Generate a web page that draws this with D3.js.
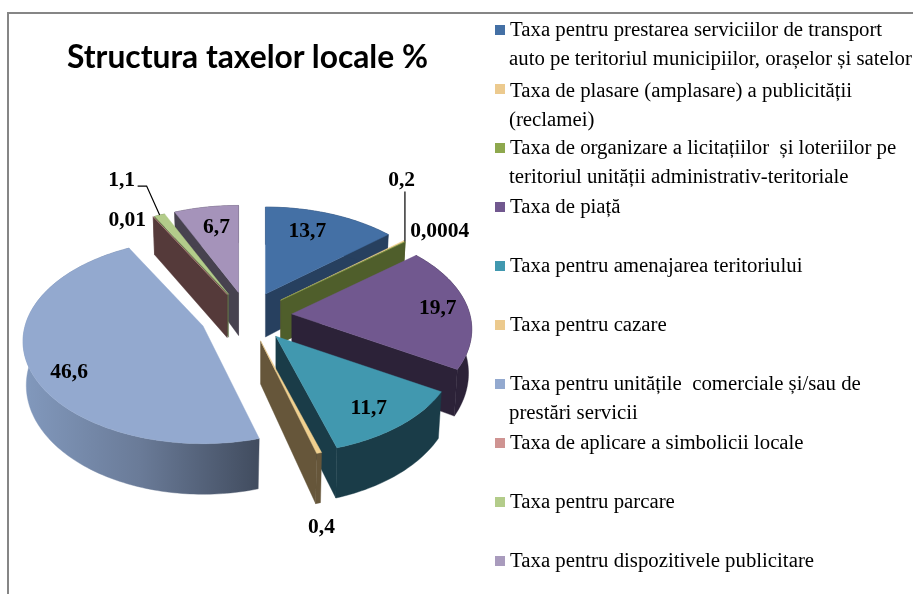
<!DOCTYPE html>
<html><head><meta charset="utf-8">
<style>html,body{margin:0;padding:0;background:#fff}svg{display:block;filter:blur(0.4px)}</style>
<script src="https://cdnjs.cloudflare.com/ajax/libs/d3/7.8.5/d3.min.js"></script>
</head><body><svg id="c" width="913" height="594"></svg>
<script>
const titleText = "Structura taxelor locale %";
const legendLines = [
 ["Taxa pentru prestarea serviciilor de transport","auto pe teritoriul municipiilor, orașelor și satelor"],
 ["Taxa de plasare (amplasare) a publicității","(reclamei)"],
 ["Taxa de organizare a licitațiilor  și loteriilor pe","teritoriul unității administrativ-teritoriale"],
 ["Taxa de piață"],
 ["Taxa pentru amenajarea teritoriului"],
 ["Taxa pentru cazare"],
 ["Taxa pentru unitățile  comerciale și/sau de","prestări servicii"],
 ["Taxa de aplicare a simbolicii locale"],
 ["Taxa pentru parcare"],
 ["Taxa pentru dispozitivele publicitare"]
];
const values = [13.7,0.2,0.0004,19.7,11.7,0.4,46.6,0.01,1.1,6.7];
const valueLabels = ["13,7","0,2","0,0004","19,7","11,7","0,4","46,6","0,01","1,1","6,7"];
const explode = [0.25,0.25,0.25,0.25,0.25,0.25,0.265,0.25,0.25,0.25];
const topColors = ["#4470a5","#f0d08f","#8ea84e","#71588f","#4198af","#f0d08f","#93a9cf","#cf9492","#b3cc8a","#a593ba"];
const wallColors = ["#27405f","#66563a","#4f5e2b","#2c2238","#1a3c48","#66563a","url(#blueWall)","#553a3a","#5f7048","#47424f"];
const swatchColors = ["#4470a5","#ecca8e","#8ea84e","#71588f","#4198af","#ecca8e","#93a9cf","#cf9492","#b3cc8a","#a99bbd"];
const labelOffsets = [[42,-64],[121,-121],[159,-70],[146,-7],[93,71],[61,185],[-134,45],[-100,-76],[-107,-115],[-22,-66]];
const legendTextNudge = [0,2,0,0,0,0,0,0,0,0];

const svg = d3.select("#c");
const cx=247.5, cy=316, rx=178, ry=100, k=0.15, depth=43, shrink=0.018;

const defs = svg.append("defs");
const grad = defs.append("linearGradient").attr("id","blueWall").attr("gradientUnits","userSpaceOnUse")
  .attr("x1",23).attr("x2",256).attr("y1",0).attr("y2",0);
grad.append("stop").attr("offset","0").attr("stop-color","#8299bd");
grad.append("stop").attr("offset","0.5").attr("stop-color","#6a7b98");
grad.append("stop").attr("offset","1").attr("stop-color","#424d60");

// frame
svg.append("path").attr("d",d3.line()([[8,594],[8,13],[913,13]])).attr("fill","none").attr("stroke","#868686").attr("stroke-width",2);

// title
svg.append("text").attr("x",67).attr("y",68).attr("font-family","Lato, 'Open Sans', sans-serif").attr("font-weight",700)
  .attr("font-size",33).attr("fill","#000").attr("textLength",361).attr("lengthAdjust","spacingAndGlyphs").text(titleText);

const arcs = d3.pie().sort(null).startAngle(0).endAngle(2*Math.PI)(values).map((a,i)=>{
  const mid=(a.startAngle+a.endAngle)/2;
  const ou=explode[i]*Math.sin(mid), ov=-explode[i]*Math.cos(mid);
  const w0=1-k*ov;
  return {i,a,mid,ov,base:[cx+rx*ou/w0, cy+ry*ov/w0]};
});
const pt=(s,u,v,z)=>{
  const w=1-k*v;
  return [s.base[0]+rx*u/w*(1-shrink*z), s.base[1]+ry*v/w+depth*z/w];
};
const rim=(s,t,z)=>pt(s,Math.sin(t),-Math.cos(t),z);
const line=d3.line();
const pie=svg.append("g");
const order=[...arcs].sort((p,q)=>p.ov-q.ov);
order.forEach(s=>{
  const {startAngle:a0,endAngle:a1}=s.a;
  const n=Math.max(2,Math.ceil((a1-a0)/0.02));
  const ts=d3.range(n+1).map(j=>a0+(a1-a0)*j/n);
  const g=pie.append("g");
  const wall=wallColors[s.i];
  const flat=d=>g.append("path").attr("d",line(d)+"Z").attr("fill",wall).attr("stroke",wall).attr("stroke-width",0.4);
  const A0=pt(s,0,0,0),A1=pt(s,0,0,1);
  if(Math.sin(a0)<0) flat([A0,rim(s,a0,0),rim(s,a0,1),A1]);
  if(Math.sin(a1)>0) flat([A0,rim(s,a1,0),rim(s,a1,1),A1]);
  flat([...ts.map(t=>rim(s,t,0)),...ts.slice().reverse().map(t=>rim(s,t,1))]);
  g.append("path").attr("d",line([A0,...ts.map(t=>rim(s,t,0))])+"Z").attr("fill",topColors[s.i]).attr("stroke",topColors[s.i]).attr("stroke-width",0.4);
});

// value labels
const lab=svg.append("g").attr("font-family","'Liberation Serif',serif").attr("font-weight",700).attr("font-size",21.5).attr("fill","#000").attr("text-anchor","middle");
arcs.forEach(s=>{
  const o=labelOffsets[s.i];
  lab.append("text").attr("x",s.base[0]+o[0]).attr("y",s.base[1]+o[1]+7).text(valueLabels[s.i]);
});
// leader lines: 0,2 and 1,1
const tip02=rim(arcs[1],arcs[1].a.endAngle,0);
svg.append("path").attr("d",line([[tip02[0],tip02[1]-50],tip02])).attr("fill","none").attr("stroke","#000").attr("stroke-width",1.2);
const tip11=rim(arcs[8],(arcs[8].a.startAngle+arcs[8].a.endAngle)/2,0);
svg.append("path").attr("d",line([[tip11[0]-22,tip11[1]-29],[tip11[0]-13,tip11[1]-29],tip11])).attr("fill","none").attr("stroke","#000").attr("stroke-width",1.2);

// legend
const ly=d3.scalePoint().domain(d3.range(legendLines.length)).range([30,561]);
const leg=svg.append("g").attr("font-family","'Liberation Serif',serif").attr("font-size",20.8).attr("fill","#000");
legendLines.forEach((ls,i)=>{
  leg.append("rect").attr("x",495).attr("y",ly(i)-5).attr("width",10).attr("height",10).attr("fill",swatchColors[i]);
  ls.forEach((t,j)=>leg.append("text").attr("xml:space","preserve").style("white-space","pre").attr("x",j?509:510).attr("y",ly(i)+6+29*j+legendTextNudge[i]).text(t));
});
</script></body></html>
